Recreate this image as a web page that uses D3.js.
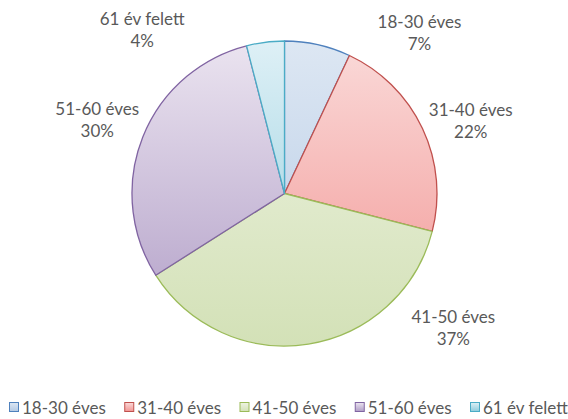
<!DOCTYPE html>
<html>
<head>
<meta charset="utf-8">
<script src="https://cdn.jsdelivr.net/npm/d3@7"></script>
<style>
  body { margin: 0; background: #fff; }
  text { font-family: Lato, "Open Sans", sans-serif; fill: #595959; }
</style>
</head>
<body>
<svg id="chart" width="568" height="419"></svg>
<script>
const categories = ['18-30 éves', '31-40 éves', '41-50 éves', '51-60 éves', '61 év felett'];
const values = [7, 22, 37, 30, 4];
const percentLabels = ['7%', '22%', '37%', '30%', '4%'];

const strokeColors = ['#4f81bd', '#c0504d', '#9bbb59', '#8064a2', '#4bacc6'];
const topColors = ['#dde7f3', '#fadad9', '#eef3e2', '#ebe4f0', '#def0f6'];
const bottomColors = ['#b3c9e4', '#f29593', '#d3e1b7', '#b09dc6', '#8ecbdc'];
// where Excel dropped each data label: [angle from top in degrees, distance from centre]
const labelSpots = [[40, 210], [68.6, 200], [128.6, 216], [291.3, 201], [319, 217]];

const width = 568, height = 419;
const cx = 284.5, cy = 193.5, radius = 152.5;

const svg = d3.select('#chart');
const defs = svg.append('defs');

categories.forEach((c, i) => {
    const g = defs.append('linearGradient')
        .attr('id', 'grad' + i)
        .attr('gradientUnits', 'userSpaceOnUse')
        .attr('x1', 0).attr('y1', -radius).attr('x2', 0).attr('y2', radius);
    g.append('stop').attr('offset', 0).attr('stop-color', topColors[i]);
    g.append('stop').attr('offset', 1).attr('stop-color', bottomColors[i]);

    const lg = defs.append('linearGradient')
        .attr('id', 'lg' + i)
        .attr('x1', 0).attr('y1', 0).attr('x2', 0).attr('y2', 1);
    lg.append('stop').attr('offset', 0).attr('stop-color', topColors[i]);
    lg.append('stop').attr('offset', 1).attr('stop-color', bottomColors[i]);
});

const data = categories.map((c, i) => ({ name: c, value: values[i], pct: percentLabels[i], i }));

const pie = d3.pie().value(d => d.value).sort(null);
const arc = d3.arc().innerRadius(0).outerRadius(radius);

const pieG = svg.append('g').attr('transform', `translate(${cx},${cy})`);

pieG.selectAll('path')
    .data(pie(data))
    .enter().append('path')
    .attr('d', arc)
    .attr('fill', d => `url(#grad${d.data.i})`)
    .attr('stroke', d => strokeColors[d.data.i])
    .attr('stroke-width', 1.3)
    .attr('stroke-linejoin', 'round');

// data labels
const labels = pieG.selectAll('.lbl')
    .data(data)
    .enter().append('text')
    .attr('class', 'lbl')
    .attr('text-anchor', 'middle')
    .attr('font-size', 17)
    .attr('transform', d => {
        const [a, r] = labelSpots[d.i];
        const rad = a * Math.PI / 180;
        return `translate(${r * Math.sin(rad)},${-r * Math.cos(rad)})`;
    });
labels.append('tspan').attr('x', 0).attr('y', -5).text(d => d.name);
labels.append('tspan').attr('x', 0).attr('y', 17).text(d => d.pct);

// legend
const legendX = d3.scalePoint().domain(categories).range([9, 470]);
const legend = svg.append('g').attr('transform', 'translate(0,408)');
const item = legend.selectAll('g')
    .data(data)
    .enter().append('g')
    .attr('transform', d => `translate(${legendX(d.name)},0)`);

item.append('rect')
    .attr('x', 0.5).attr('y', -5.5)
    .attr('width', 9).attr('height', 9)
    .attr('fill', d => `url(#lg${d.i})`)
    .attr('stroke', d => strokeColors[d.i]);

item.append('text')
    .attr('x', 13).attr('y', 6)
    .attr('font-size', 17)
    .text(d => d.name);
</script>
</body>
</html>
